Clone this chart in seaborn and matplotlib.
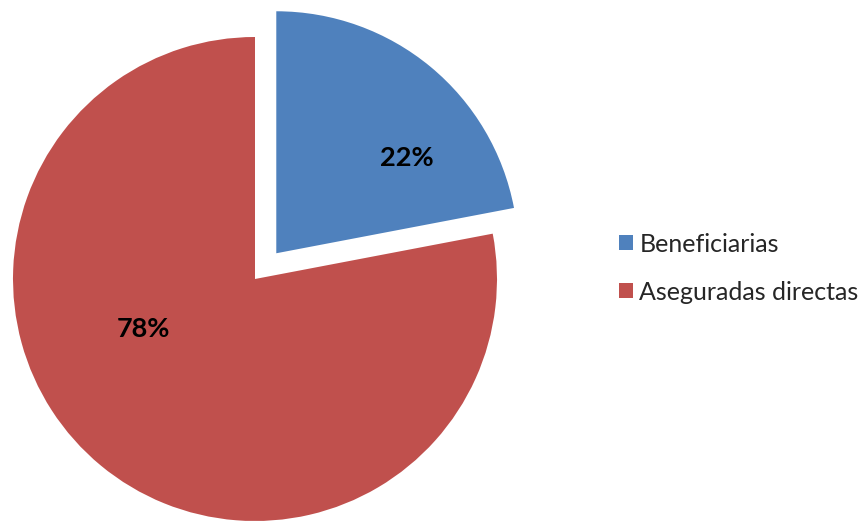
import matplotlib
matplotlib.use("Agg")
import matplotlib.pyplot as plt
import seaborn as sns
from matplotlib.patches import Patch

categories = ["Beneficiarias", "Aseguradas directas"]
shares = [22, 78]
colors = ["#4F81BD", "#C0504D"]

sns.set_theme(style="white")
plt.rcParams["font.family"] = ["Lato", "DejaVu Sans"]

W, H = 863, 521
fig = plt.figure(figsize=(W / 100, H / 100), dpi=100)
fig.patch.set_facecolor("white")

# pie body: centre (255, 279) px, radius 242 px
cx, cy, r = 255, 279, 242
ax = fig.add_axes([(cx - r) / W, (H - cy - r) / H, 2 * r / W, 2 * r / H])

wedges, texts, autotexts = ax.pie(
    shares,
    colors=colors,
    startangle=90,
    counterclock=False,
    explode=[0.138, 0],
    autopct="%1.0f%%",
    pctdistance=0.6,
    textprops=dict(fontsize=19.5, fontweight="bold", color="black"),
    wedgeprops=dict(linewidth=0),
)
for w in wedges:
    w.set_clip_on(False)

# percentage labels sit off the wedge bisectors
label_pos = [(0.628, 0.50), (-0.463, -0.207)]
for t, (x, y) in zip(autotexts, label_pos):
    t.set_position((x, y))

ax.set_xlim(-1, 1)
ax.set_ylim(-1, 1)
ax.set_aspect("equal")
ax.axis("off")

handles = [Patch(facecolor=c, edgecolor="none") for c in colors]
fig.legend(
    handles,
    categories,
    loc="center left",
    bbox_to_anchor=(619 / W, 1 - 268 / H),
    frameon=False,
    fontsize=18,
    handlelength=0.56,
    handleheight=0.56,
    handletextpad=0.25,
    labelspacing=1.0,
    borderpad=0,
    borderaxespad=0,
)

fig.savefig("out.png", dpi=100, facecolor="white")
